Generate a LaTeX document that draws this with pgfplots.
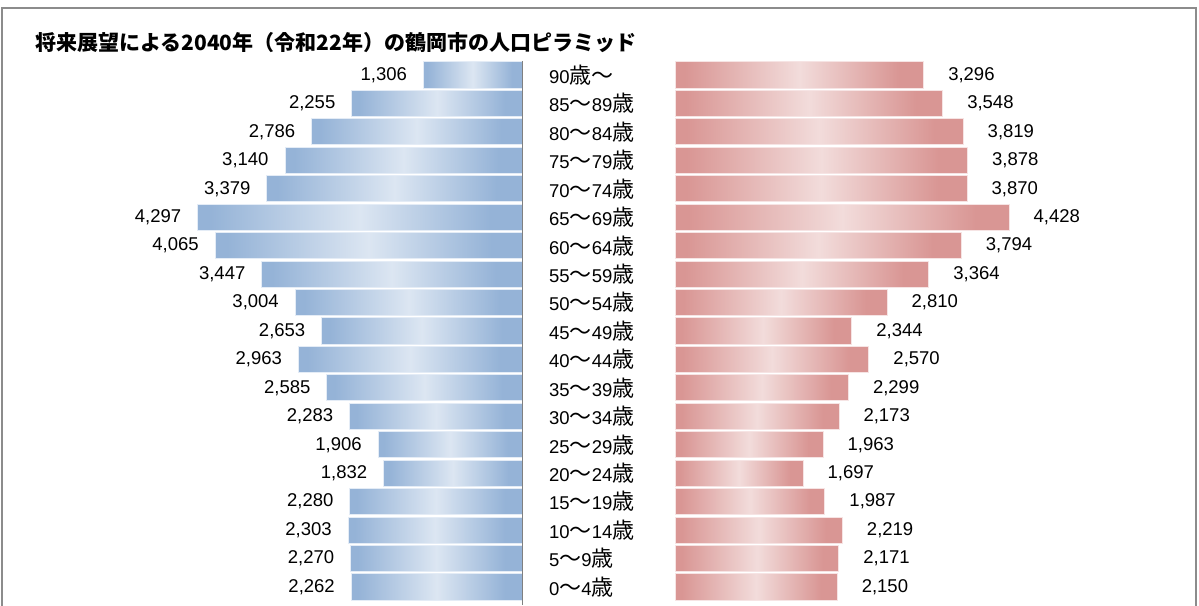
\documentclass[border=0pt]{standalone}
\usepackage{fontspec}
\usepackage{pgfplots}
\pgfplotsset{compat=1.18}
\setmainfont{Liberation Sans}
\newfontfamily\jp{Noto Sans CJK JP}
\definecolor{bdark}{HTML}{95B3D7}
\definecolor{blight}{HTML}{DCE6F2}
\definecolor{bedge}{HTML}{E4ECF6}
\definecolor{pdark}{HTML}{D99694}
\definecolor{plight}{HTML}{F2DCDB}
\definecolor{pedge}{HTML}{F6E4E4}
\definecolor{frame}{HTML}{8C8C8C}
\pgfdeclarehorizontalshading{bshade}{100bp}{color(0bp)=(bdark); color(27bp)=(bdark); color(50bp)=(blight); color(70bp)=(bdark); color(100bp)=(bdark)}
\pgfdeclarehorizontalshading{pshade}{100bp}{color(0bp)=(pdark); color(27bp)=(pdark); color(50bp)=(plight); color(70bp)=(pdark); color(100bp)=(pdark)}
\newcommand\sai{{\jp\fontsize{22}{22}\selectfont 歳}}
\newcommand\kara{{\jp\fontsize{22}{22}\selectfont ～}}
\pgfplotsset{
 mbar/.style={xbar, bar width=0.92, bar shift=0pt, draw=bedge, line width=1pt, shading=bshade,
  every node near coord/.append style={anchor=east, xshift=-16pt, inner sep=0, text=black, font=\fontsize{18.5}{20}\selectfont}},
 fbar/.style={xbar, bar width=0.92, bar shift=0pt, draw=pedge, line width=1pt, shading=pshade,
  every node near coord/.append style={anchor=west, xshift=24pt, inner sep=0, text=black, font=\fontsize{18.5}{20}\selectfont}},
}
\begin{document}
\begin{tikzpicture}
\path[use as bounding box] (0,0) rectangle (1199pt,-605pt);
\fill[white] (0,0) rectangle (1199pt,-605pt);
\draw[color=frame, line width=1.5pt] (2pt,-620pt) -- (2pt,-8pt) -- (1196pt,-8pt) -- (1196pt,-620pt);
\node[anchor=west, font=\jp\bfseries\fontsize{21}{24}\selectfont, inner sep=0] at (35pt,-43pt) {将来展望による2040年（令和22年）の鶴岡市の人口ピラミッド};

\begin{axis}[
 at={(522pt,-60.8pt)}, anchor=north east,
 scale only axis, width=400pt, height=540.4pt,
 xmin=0, xmax=5300, x dir=reverse, ymin=-0.5, ymax=18.5,
 hide axis, clip=false,
 xbar, bar shift=0pt,
 point meta=x,
 nodes near coords={\pgfmathprintnumber{\pgfplotspointmeta}},
 /pgf/number format/1000 sep={,},
 /pgf/number format/assume math mode=true,
]
\addplot[mbar] coordinates {(2262,0)};
\addplot[mbar] coordinates {(2270,1)};
\addplot[mbar] coordinates {(2303,2)};
\addplot[mbar] coordinates {(2280,3)};
\addplot[mbar] coordinates {(1832,4)};
\addplot[mbar] coordinates {(1906,5)};
\addplot[mbar] coordinates {(2283,6)};
\addplot[mbar] coordinates {(2585,7)};
\addplot[mbar] coordinates {(2963,8)};
\addplot[mbar] coordinates {(2653,9)};
\addplot[mbar] coordinates {(3004,10)};
\addplot[mbar] coordinates {(3447,11)};
\addplot[mbar] coordinates {(4065,12)};
\addplot[mbar] coordinates {(4297,13)};
\addplot[mbar] coordinates {(3379,14)};
\addplot[mbar] coordinates {(3140,15)};
\addplot[mbar] coordinates {(2786,16)};
\addplot[mbar] coordinates {(2255,17)};
\addplot[mbar] coordinates {(1306,18)};
\draw[color=gray, line width=1pt] (axis cs:0,18.5) -- (axis cs:0,-0.62);
\end{axis}

\begin{axis}[
 at={(675pt,-60.8pt)}, anchor=north west,
 scale only axis, width=400pt, height=540.4pt,
 xmin=0, xmax=5300, ymin=-0.5, ymax=18.5,
 clip=false,
 axis line style={draw=none},
 xtick=\empty,
 ytick={0,...,18},
 yticklabels={0\kara 4\sai,5\kara 9\sai,10\kara 14\sai,15\kara 19\sai,20\kara 24\sai,25\kara 29\sai,30\kara 34\sai,35\kara 39\sai,40\kara 44\sai,45\kara 49\sai,50\kara 54\sai,55\kara 59\sai,60\kara 64\sai,65\kara 69\sai,70\kara 74\sai,75\kara 79\sai,80\kara 84\sai,85\kara 89\sai,90\sai\kara},
 major tick length=0pt,
 yticklabel style={anchor=west, inner sep=0, xshift=-126pt, font=\fontsize{18.5}{20}\selectfont},
 xbar, bar shift=0pt,
 point meta=x,
 nodes near coords={\pgfmathprintnumber{\pgfplotspointmeta}},
 /pgf/number format/1000 sep={,},
 /pgf/number format/assume math mode=true,
]
\addplot[fbar] coordinates {(2150,0)};
\addplot[fbar] coordinates {(2171,1)};
\addplot[fbar] coordinates {(2219,2)};
\addplot[fbar] coordinates {(1987,3)};
\addplot[fbar] coordinates {(1697,4)};
\addplot[fbar] coordinates {(1963,5)};
\addplot[fbar] coordinates {(2173,6)};
\addplot[fbar] coordinates {(2299,7)};
\addplot[fbar] coordinates {(2570,8)};
\addplot[fbar] coordinates {(2344,9)};
\addplot[fbar] coordinates {(2810,10)};
\addplot[fbar] coordinates {(3364,11)};
\addplot[fbar] coordinates {(3794,12)};
\addplot[fbar] coordinates {(4428,13)};
\addplot[fbar] coordinates {(3870,14)};
\addplot[fbar] coordinates {(3878,15)};
\addplot[fbar] coordinates {(3819,16)};
\addplot[fbar] coordinates {(3548,17)};
\addplot[fbar] coordinates {(3296,18)};
\end{axis}
\end{tikzpicture}
\end{document}
